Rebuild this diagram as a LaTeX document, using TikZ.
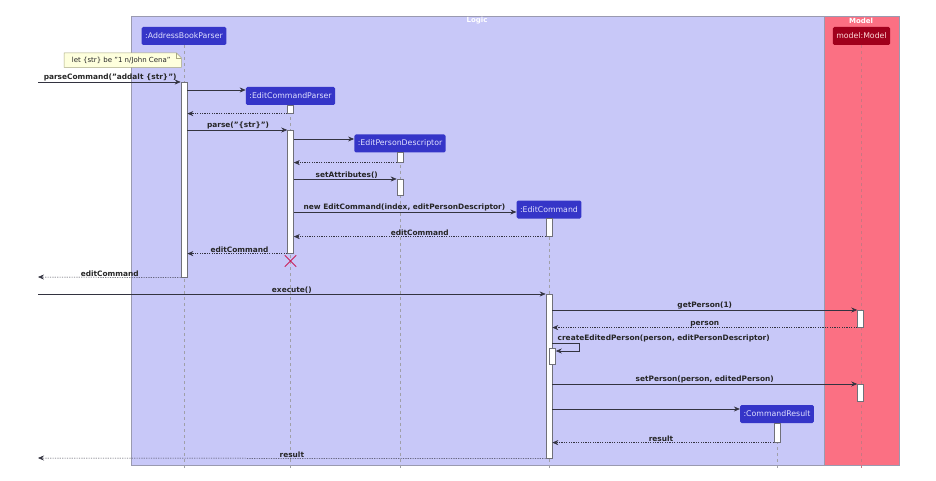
\documentclass[tikz,border=0pt]{standalone}
\usepackage{fontspec}
\setmainfont{DejaVu Sans}
\usetikzlibrary{arrows.meta,shapes.misc,calc}
\definecolor{logicbg}{HTML}{C8C8F8}
\definecolor{modelbg}{HTML}{FB7083}
\definecolor{partblue}{HTML}{3535C8}
\definecolor{partred}{HTML}{A0001C}
\definecolor{frameline}{HTML}{9A9AB0}
\definecolor{lifegray}{HTML}{A0A0A8}
\definecolor{msgcol}{HTML}{333340}
\definecolor{notebg}{HTML}{FEFFDD}
\definecolor{noteline}{HTML}{A8A880}
\definecolor{destroycol}{HTML}{C8205A}
\begin{document}
\begin{tikzpicture}[x=1pt,y=-1pt,
  part/.style={draw=none,fill=partblue,rounded corners=1.5pt,text=white!88!blue,
    font=\fontsize{7.8}{9}\selectfont,minimum height=18pt,inner xsep=3.5pt,inner ysep=0pt},
  partm/.style={part,fill=partred,text=white!85!red},
  life/.style={draw=lifegray,line width=0.7pt,dash pattern=on 3pt off 3pt},
  actbox/.style={draw=msgcol!70,fill=white,line width=0.6pt,minimum width=6pt,inner sep=0pt},
  msg/.style={draw=msgcol,line width=0.6pt,-{Stealth[length=6pt,width=5pt,inset=2pt]}},
  ret/.style={msg,line width=0.5pt,dash pattern=on 1.2pt off 1.2pt},
  lbl/.style={font=\bfseries\fontsize{7.4}{8}\selectfont,text=black!85,inner sep=0.5pt,anchor=south},
  frametitle/.style={font=\bfseries\fontsize{7}{8}\selectfont,text=white,inner sep=0pt}
]
\useasboundingbox (0,0) rectangle (936,481);
% frames
\node[draw=frameline,fill=logicbg,line width=0.6pt,minimum width=693pt,minimum height=449pt,inner sep=0pt,anchor=north west] (logic) at (131,16) {};
\node[draw=frameline,fill=modelbg,line width=0.6pt,minimum width=75pt,minimum height=449pt,inner sep=0pt,anchor=north west] (model) at (824,16) {};
\node[frametitle] (lt) at (477,21) {Logic};
\node[frametitle] (mt) at (861,21) {Model};
% participants
\node[part] (pA) at (184,36) {:AddressBookParser};
\node[part] (pP) at (290.5,96) {:EditCommandParser};
\node[part] (pD) at (400,143.5) {:EditPersonDescriptor};
\node[part] (pE) at (549,209.5) {:EditCommand};
\node[part] (pR) at (777,414) {:CommandResult};
\node[partm] (pM) at (861.5,36) {model:Model};
% lifeline ends
\coordinate (eA) at (184,468);
\coordinate (eP) at (290.5,468);
\coordinate (eD) at (400,468);
\coordinate (eE) at (549,468);
\coordinate (eR) at (777,468);
\coordinate (eM) at (861.5,468);
\draw[life] (pA.south) -- (eA);
\draw[life] (pP.south) -- (eP);
\draw[life] (pD.south) -- (eD);
\draw[life] (pE.south) -- (eE);
\draw[life] (pR.south) -- (eR);
\draw[life,draw=modelbg!60!gray] (pM.south) -- (eM);
% note
\node[inner sep=0pt,minimum width=117pt,minimum height=14pt,anchor=north west] (note) at (64,53) {};
\fill[notebg,draw=noteline,line width=0.5pt] (note.north west) -- ($(note.north east)+(-5,0)$) -- ($(note.north east)+(0,5)$) -- (note.south east) -- (note.south west) -- cycle;
\draw[noteline,line width=0.5pt] ($(note.north east)+(-5,0)$) -- ($(note.north east)+(-5,5)$) -- ($(note.north east)+(0,5)$);
\node[font=\fontsize{7}{8}\selectfont,text=black!85,inner sep=0pt] (notetxt) at ($(note.center)+(-1.5,0)$) {let \{str\} be "1 n/John Cena"};
% activations
\node[actbox,minimum height=195pt,anchor=north] (aA) at (184,82) {};
\node[actbox,minimum height=8pt,anchor=north] (aP1) at (290.5,105) {};
\node[actbox,minimum height=123pt,anchor=north] (aP2) at (290.5,130) {};
\node[actbox,minimum height=10pt,anchor=north] (aD1) at (400,152) {};
\node[actbox,minimum height=16pt,anchor=north] (aD2) at (400,179) {};
\node[actbox,minimum height=18pt,anchor=north] (aE1) at (549,218) {};
\node[actbox,minimum height=164pt,anchor=north] (aE2) at (549,294) {};
\node[actbox,minimum height=17pt,anchor=north] (aM1) at (860.5,310) {};
\node[actbox,minimum height=16pt,anchor=north] (aS) at (552.5,348) {};
\node[actbox,minimum height=17pt,anchor=north] (aM2) at (860.5,384) {};
\node[actbox,minimum height=19pt,anchor=north] (aR) at (777,423) {};
% outer coordinates
\coordinate (o1) at (38,82);
\coordinate (o2) at (38,277);
\coordinate (o3) at (38,294);
\coordinate (o4) at (38,458);
% messages
\draw[msg] (o1) -- (aA.north west) node[lbl,pos=0,anchor=south west,xshift=5pt] (l1) {parseCommand("addalt \{str\}")};
\draw[msg] (aA.east |- 0,90) -- (pP.west |- 0,90);
\draw[ret] (aP1.south west) -- (aA.east |- aP1.south);
\draw[msg] (aA.east |- aP2.north) -- (aP2.north west) node[lbl,pos=0,anchor=south west,xshift=19pt] (l2) {parse("\{str\}")};
\draw[msg] (aP2.east |- 0,139) -- (pD.west |- 0,139);
\draw[ret] (aD1.south west) -- (aP2.east |- aD1.south);
\draw[msg] (aP2.east |- aD2.north) -- (aD2.north west) node[lbl,pos=0,anchor=south west,xshift=21pt] (l3) {setAttributes()};
\draw[msg] (aP2.east |- 0,212) -- (pE.west |- 0,212) node[lbl,pos=0,anchor=south west,xshift=9pt] (l4) {new EditCommand(index, editPersonDescriptor)};
\draw[ret] (aE1.south west) -- (aP2.east |- aE1.south) node[lbl,midway] (l5) {editCommand};
\draw[ret] (aP2.south west) -- (aA.east |- aP2.south) node[lbl,pos=0,anchor=south east,xshift=-18pt] (l6) {editCommand};
\node[inner sep=0pt,minimum size=11pt] (x1) at (290.5,261) {};
\draw[destroycol,line width=0.9pt] (x1.north west) -- (x1.south east) (x1.north east) -- (x1.south west);
\draw[ret] (aA.south west) -- (o2) node[lbl,pos=1,anchor=south west,xshift=42pt] (l7) {editCommand};
\draw[msg] (o3) -- (aE2.north west) node[lbl,midway] (l8) {execute()};
\draw[msg] (aE2.east |- aM1.north) -- (aM1.north west) node[lbl,midway] (l9) {getPerson(1)};
\draw[ret] (aM1.south west) -- (aE2.east |- aM1.south) node[lbl,midway] (l10) {person};
\coordinate (sc) at (579,343);
\draw[msg] (aE2.east |- sc) -- (sc) |- (aS.east |- 0,351);
\node[lbl,anchor=south west] (l11) at (557,343) {createEditedPerson(person, editPersonDescriptor)};
\draw[msg] (aE2.east |- aM2.north) -- (aM2.north west) node[lbl,midway] (l12) {setPerson(person, editedPerson)};
\draw[msg] (aE2.east |- 0,409) -- (pR.west |- 0,409);
\draw[ret] (aR.south west) -- (aE2.east |- aR.south) node[lbl,pos=0.5,xshift=-2pt] (l13) {result};
\draw[ret] (aE2.south west) -- (o4) node[lbl,midway] (l14) {result};
\end{tikzpicture}
\end{document}
